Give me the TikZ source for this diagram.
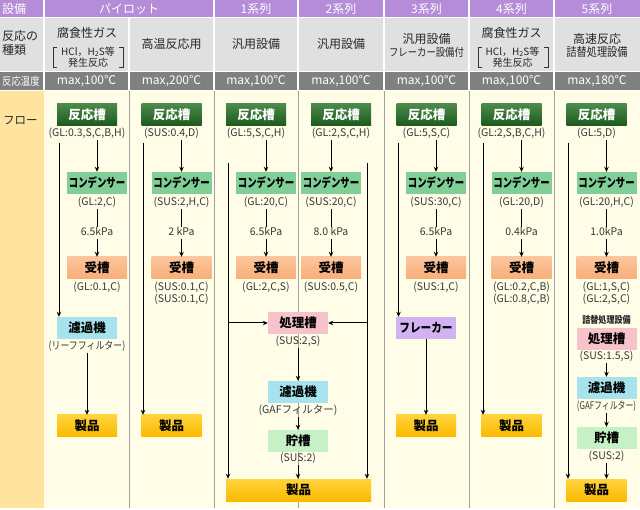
\documentclass[tikz,border=0pt]{standalone}
\usepackage{fontspec}
\setmainfont{Noto Sans CJK JP}
\newfontfamily\cjkc[FakeStretch=0.75]{Noto Sans CJK JP}
\newfontfamily\cjkd[FakeStretch=0.85]{Noto Sans CJK JP}
\usetikzlibrary{arrows.meta}
\definecolor{hpurple}{HTML}{B48CD7}
\definecolor{hlgrey}{HTML}{E0E0E0}
\definecolor{hdgrey}{HTML}{808080}
\definecolor{flowlab}{HTML}{FFE4A0}
\definecolor{cream}{HTML}{FFFDE8}
\definecolor{sepgrey}{HTML}{A0A0A0}
\definecolor{labgrey}{HTML}{383838}
\definecolor{reacttop}{HTML}{4A8A4A}
\definecolor{reactbot}{HTML}{1C581C}
\definecolor{condgreen}{HTML}{80CF98}
\definecolor{recvtop}{HTML}{FBC59C}
\definecolor{recvbot}{HTML}{F8AE78}
\definecolor{filtcyan}{HTML}{A6E3EC}
\definecolor{procpink}{HTML}{F7C2CA}
\definecolor{storgreen}{HTML}{C6F0C6}
\definecolor{flaklav}{HTML}{D2B2F2}
\definecolor{prodtop}{HTML}{FFD43C}
\definecolor{prodbot}{HTML}{FBB800}
\begin{document}
\begin{tikzpicture}[x=1pt,y=-1pt,
  eqbox/.style={minimum width=60pt, minimum height=22pt, inner sep=0pt,
    font=\fontsize{12.5}{14}\selectfont\bfseries},
  reactor/.style={eqbox, top color=reacttop, bottom color=reactbot, text=white},
  condb/.style={eqbox, fill=condgreen, font=\cjkc\fontsize{12.5}{14}\selectfont\bfseries},
  recvb/.style={eqbox, top color=recvtop, bottom color=recvbot},
  filtb/.style={eqbox, fill=filtcyan},
  procb/.style={eqbox, fill=procpink},
  storb/.style={eqbox, fill=storgreen},
  flakb/.style={eqbox, fill=flaklav, font=\cjkd\fontsize{12.5}{14}\selectfont\bfseries},
  prodb/.style={eqbox, top color=prodtop, bottom color=prodbot},
  lab/.style={font=\fontsize{10.5}{12}\selectfont, text=labgrey, inner sep=1pt,
    text height=8pt, text depth=2.5pt},
  labc/.style={lab, font=\cjkd\fontsize{10.5}{12}\selectfont},
  labcc/.style={lab, font=\cjkc\fontsize{10.5}{12}\selectfont},
  hdrw/.style={font=\fontsize{12}{14}\selectfont, text=white, inner sep=0pt},
  hdrk/.style={font=\fontsize{12}{14}\selectfont, text=black!85, inner sep=0pt},
  hdrs/.style={font=\fontsize{10}{11}\selectfont, text=black!85, inner sep=0pt},
  arr/.style={draw=black, line width=1pt, -{Stealth[length=5pt,width=4.5pt]}},
  ln/.style={draw=black, line width=1pt},
  brk/.style={draw=black!80, line width=0.8pt}
]
\useasboundingbox (0,0) rectangle (640,510);
% ---------- backgrounds ----------
\fill[white] (0,0) rectangle (640,510);
\fill[hpurple] (0,0) rectangle (640,17);
\fill[hlgrey] (0,18) rectangle (640,71);
\fill[hdgrey] (0,72) rectangle (640,90);
\fill[flowlab] (0,91) rectangle (44,508);
\fill[cream] (44,91) rectangle (640,508);
\foreach \x in {44,214,298,384,469,554} \draw[white, line width=1.5pt] (\x,0) -- (\x,90);
\draw[white, line width=1.5pt] (129,17) -- (129,90);
\foreach \x in {129,214,298,384,469,554} \draw[sepgrey, line width=1pt] (\x,91) -- (\x,508);
% ---------- header row 1 ----------
\node[hdrw, anchor=west] (h0) at (2,9) {設備};
\node[hdrw] (hp) at (129,9) {パイロット};
\node[hdrw] (h1) at (256,9) {1系列};
\node[hdrw] (h2) at (341,9) {2系列};
\node[hdrw] (h3) at (426.5,9) {3系列};
\node[hdrw] (h4) at (511.5,9) {4系列};
\node[hdrw] (h5) at (597,9) {5系列};
% ---------- header row 2 ----------
\node[hdrk, anchor=west, align=left] (k0) at (2,43) {反応の\\種類};
\node[hdrk] (k1a) at (87,33) {腐食性ガス};
\node[hdrs, align=center] (k1b) at (88,57) {HCl，H\raisebox{-0.3ex}{\fontsize{7}{7}\selectfont 2}S等\\発生反応};
\draw[brk] (57,47) -- (53,47) -- (53,67) -- (57,67);
\draw[brk] (119,47) -- (123,47) -- (123,67) -- (119,67);
\node[hdrk] (k2) at (171.5,44) {高温反応用};
\node[hdrk] (k3) at (256,44) {汎用設備};
\node[hdrk] (k4) at (341,44) {汎用設備};
\node[hdrk] (k5a) at (426.5,39) {汎用設備};
\node[hdrk, font=\cjkd\fontsize{11}{13}\selectfont] (k5b) at (426.5,52) {フレーカー設備付};
\node[hdrk] (k6a) at (511.5,33) {腐食性ガス};
\node[hdrs, align=center] (k6b) at (512.5,57) {HCl，H\raisebox{-0.3ex}{\fontsize{7}{7}\selectfont 2}S等\\発生反応};
\draw[brk] (482,47) -- (478,47) -- (478,67) -- (482,67);
\draw[brk] (544,47) -- (548,47) -- (548,67) -- (544,67);
\node[hdrk] (k7a) at (597,39) {高速反応};
\node[hdrk, font=\cjkd\fontsize{12}{14}\selectfont] (k7b) at (597,52) {詰替処理設備};
% ---------- header row 3 ----------
\node[hdrw, anchor=west, font=\cjkd\fontsize{11}{13}\selectfont] (t0) at (2,81) {反応温度};
\node[hdrw] (t1) at (86.5,81) {max,100℃};
\node[hdrw] (t2) at (171.5,81) {max,200℃};
\node[hdrw] (t3) at (256,81) {max,100℃};
\node[hdrw] (t4) at (341,81) {max,100℃};
\node[hdrw] (t5) at (426.5,81) {max,100℃};
\node[hdrw] (t6) at (511.5,81) {max,100℃};
\node[hdrw] (t7) at (597,81) {max,180℃};
\node[hdrk, anchor=west, font=\fontsize{11.5}{13}\selectfont] (fl) at (3,121) {フロー};
% ---------- pilot column 1 ----------
\node[reactor] (ra) at (87,115) {反応槽};
\node[lab] (rla) at (87,134) {(GL:0.3,S,C,B,H)};
\node[condb] (ca) at (97,183) {コンデンサー};
\node[lab] (cla) at (97,203) {(GL:2,C)};
\node[lab] (pa) at (97,233) {6.5kPa};
\node[recvb] (ua) at (97,268) {受槽};
\node[lab] (ula) at (97,288) {(GL:0.1,C)};
\node[filtb] (fa) at (87,328) {濾過機};
\node[labc] (fla) at (87,347) {(リーフフィルター)};
\node[prodb] (pra) at (87,426) {製品};
\draw[arr] (rla.south -| ca) -- (ca.north);
\draw[ln] (cla.south) -- (pa.north);
\draw[arr] (pa.south) -- (ua.north);
\coordinate (sa) at (59,143);
\draw[arr] (sa) -- (sa |- fa.north);
\draw[arr] (fla.south) -- (pra.north);
% ---------- pilot column 2 ----------
\node[reactor] (rb) at (171.5,115) {反応槽};
\node[lab] (rlb) at (171.5,134) {(SUS:0.4,D)};
\node[condb] (cb) at (181.5,183) {コンデンサー};
\node[lab] (clb) at (181.5,203) {(SUS:2,H,C)};
\node[lab] (pb) at (181.5,233) {2 kPa};
\node[recvb] (ub) at (181.5,268) {受槽};
\node[lab] (ulb1) at (181.5,288) {(SUS:0.1,C)};
\node[lab] (ulb2) at (181.5,300) {(SUS:0.1,C)};
\node[prodb] (prb) at (171.5,426) {製品};
\draw[arr] (rlb.south -| cb) -- (cb.north);
\draw[ln] (clb.south) -- (pb.north);
\draw[arr] (pb.south) -- (ub.north);
\coordinate (sb) at (143,143);
\draw[arr] (sb) -- (sb |- prb.north);
% ---------- series 1 ----------
\node[reactor] (rc) at (256,115) {反応槽};
\node[lab] (rlc) at (256,134) {(GL:5,S,C,H)};
\node[condb] (cc) at (266,183) {コンデンサー};
\node[lab] (clc) at (266,203) {(GL:20,C)};
\node[lab] (pc) at (266,233) {6.5kPa};
\node[recvb] (uc) at (266,268) {受槽};
\node[lab] (ulc) at (266,288) {(GL:2,C,S)};
\draw[arr] (rlc.south -| cc) -- (cc.north);
\draw[ln] (clc.south) -- (pc.north);
\draw[arr] (pc.south) -- (uc.north);
% ---------- series 2 ----------
\node[reactor] (rd) at (341,115) {反応槽};
\node[lab] (rld) at (341,134) {(GL:2,S,C,H)};
\node[condb] (cd) at (331,183) {コンデンサー};
\node[lab] (cld) at (331,203) {(SUS:20,C)};
\node[lab] (pd) at (331,233) {8.0 kPa};
\node[recvb] (ud) at (331,268) {受槽};
\node[lab] (uld) at (331,288) {(SUS:0.5,C)};
\draw[arr] (rld.south -| cd) -- (cd.north);
\draw[ln] (cld.south) -- (pd.north);
\draw[arr] (pd.south) -- (ud.north);
% ---------- series 1+2 common ----------
\node[procb] (qc) at (298,323) {処理槽};
\node[lab] (qlc) at (298,342) {(SUS:2,S)};
\node[filtb] (fc) at (298,392) {濾過機};
\node[lab] (flc) at (298,411) {(GAFフィルター)};
\node[storb] (gc) at (298,441) {貯槽};
\node[lab] (glc) at (298,459) {(SUS:2)};
\node[prodb, minimum width=145pt] (prc) at (298.5,490) {製品};
\coordinate (sc) at (228,163);
\coordinate (sd) at (367,163);
\draw[arr] (sc) -- (sc |- prc.north);
\draw[arr] (sd) -- (sd |- prc.north);
\draw[arr] (sc |- qc.west) -- (qc.west);
\draw[arr] (sd |- qc.east) -- (qc.east);
\draw[arr] (qlc.south) -- (fc.north);
\draw[arr] (flc.south) -- (gc.north);
\draw[arr] (glc.south) -- (glc.south |- prc.north);
% ---------- series 3 ----------
\node[reactor] (re) at (426.5,115) {反応槽};
\node[lab] (rle) at (426.5,134) {(GL:5,S,C)};
\node[condb] (ce) at (436,183) {コンデンサー};
\node[lab] (cle) at (436,203) {(SUS:30,C)};
\node[lab] (pe) at (436,233) {6.5kPa};
\node[recvb] (ue) at (436,268) {受槽};
\node[lab] (ule) at (436,288) {(SUS:1,C)};
\node[flakb] (ke) at (426,328) {フレーカー};
\node[prodb] (pre) at (426,426) {製品};
\draw[arr] (rle.south -| ce) -- (ce.north);
\draw[ln] (cle.south) -- (pe.north);
\draw[arr] (pe.south) -- (ue.north);
\coordinate (se) at (398.5,143);
\draw[arr] (se) -- (se |- ke.north);
\draw[arr] (ke.south) -- (pre.north);
% ---------- series 4 ----------
\node[reactor] (rf) at (511.5,115) {反応槽};
\node[lab] (rlf) at (511.5,134) {(GL:2,S,B,C,H)};
\node[condb] (cf) at (521.5,183) {コンデンサー};
\node[lab] (clf) at (521.5,203) {(GL:20,D)};
\node[lab] (pf) at (521.5,233) {0.4kPa};
\node[recvb] (uf) at (521.5,268) {受槽};
\node[lab] (ulf1) at (521.5,288) {(GL:0.2,C,B)};
\node[lab] (ulf2) at (521.5,300) {(GL:0.8,C,B)};
\node[prodb] (prf) at (511.5,426) {製品};
\draw[arr] (rlf.south -| cf) -- (cf.north);
\draw[ln] (clf.south) -- (pf.north);
\draw[arr] (pf.south) -- (uf.north);
\coordinate (sf) at (483,143);
\draw[arr] (sf) -- (sf |- prf.north);
% ---------- series 5 ----------
\node[reactor] (rg) at (596.5,115) {反応槽};
\node[lab] (rlg) at (596.5,134) {(GL:5,D)};
\node[condb] (cg) at (606.5,183) {コンデンサー};
\node[lab] (clg) at (606.5,203) {(GL:20,H,C)};
\node[lab] (pg) at (606.5,233) {1.0kPa};
\node[recvb] (ug) at (606.5,268) {受槽};
\node[lab] (ulg1) at (606.5,288) {(GL:1,S,C)};
\node[lab] (ulg2) at (606.5,300) {(GL:2,S,C)};
\node[font=\cjkd\fontsize{9.5}{11}\selectfont\bfseries, text=black!85, inner sep=0pt] (zg) at (606.5,320) {詰替処理設備};
\node[procb] (qg) at (606.5,339) {処理槽};
\node[lab] (qlg) at (606.5,357) {(SUS:1.5,S)};
\node[filtb] (fg) at (606.5,388) {濾過機};
\node[labcc] (flg) at (606.5,407) {(GAFフィルター)};
\node[storb] (gg) at (606.5,438) {貯槽};
\node[lab] (glg) at (606.5,457) {(SUS:2)};
\node[prodb] (prg) at (596.5,490) {製品};
\draw[arr] (rlg.south -| cg) -- (cg.north);
\draw[ln] (clg.south) -- (pg.north);
\draw[arr] (pg.south) -- (ug.north);
\draw[arr] (qlg.south) -- (fg.north);
\draw[arr] (flg.south) -- (gg.north);
\draw[arr] (glg.south) -- (glg.south |- prg.north);
\coordinate (sg) at (568,143);
\draw[arr] (sg) -- (sg |- prg.north);
\end{tikzpicture}
\end{document}
